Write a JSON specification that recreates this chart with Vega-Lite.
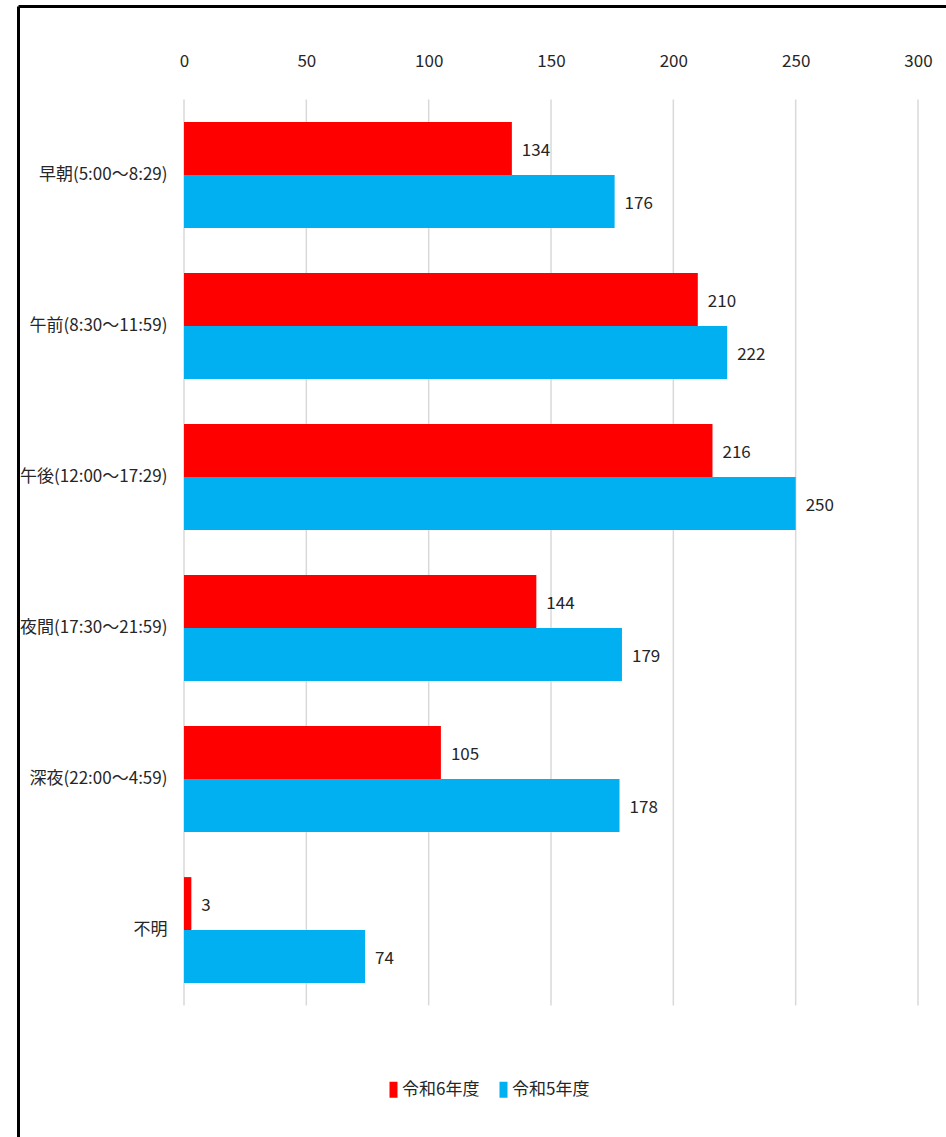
{
  "$schema": "https://vega.github.io/schema/vega-lite/v6.json",
  "width": 928,
  "height": 1131,
  "autosize": {"type": "none"},
  "padding": {"left": 18, "top": 6, "right": 0, "bottom": 0},
  "background": "white",
  "config": {
    "view": {"stroke": null},
    "font": "Noto Sans CJK JP, sans-serif",
    "text": {"font": "Noto Sans CJK JP, sans-serif"}
  },
  "datasets": {
    "bars": [
      {"time": "早朝(5:00～8:29)", "year": "令和6年度", "count": 134},
      {"time": "早朝(5:00～8:29)", "year": "令和5年度", "count": 176},
      {"time": "午前(8:30～11:59)", "year": "令和6年度", "count": 210},
      {"time": "午前(8:30～11:59)", "year": "令和5年度", "count": 222},
      {"time": "午後(12:00～17:29)", "year": "令和6年度", "count": 216},
      {"time": "午後(12:00～17:29)", "year": "令和5年度", "count": 250},
      {"time": "夜間(17:30～21:59)", "year": "令和6年度", "count": 144},
      {"time": "夜間(17:30～21:59)", "year": "令和5年度", "count": 179},
      {"time": "深夜(22:00～4:59)", "year": "令和6年度", "count": 105},
      {"time": "深夜(22:00～4:59)", "year": "令和5年度", "count": 178},
      {"time": "不明", "year": "令和6年度", "count": 3},
      {"time": "不明", "year": "令和5年度", "count": 74}
    ],
    "grid": [{"v": 0}, {"v": 50}, {"v": 100}, {"v": 150}, {"v": 200}, {"v": 250}, {"v": 300}]
  },
  "layer": [
    {
      "data": {"name": "grid"},
      "mark": {"type": "rule", "color": "#D9D9D9", "strokeWidth": 1.5},
      "encoding": {
        "x": {"field": "v", "type": "quantitative"},
        "y": {"datum": "早朝(5:00～8:29)", "type": "nominal", "bandPosition": -0.212},
        "y2": {"datum": "不明", "bandPosition": 1.212}
      }
    },
    {
      "data": {"name": "bars"},
      "mark": {"type": "bar"},
      "encoding": {
        "x": {"field": "count", "type": "quantitative"},
        "x2": {"datum": 0},
        "y": {"field": "time", "type": "nominal"},
        "yOffset": {"field": "year", "type": "nominal", "scale": {"domain": ["令和6年度", "令和5年度"], "paddingInner": 0, "paddingOuter": 0}},
        "color": {
          "field": "year", "type": "nominal",
          "scale": {"domain": ["令和6年度", "令和5年度"], "range": ["#FF0000", "#00B0F0"]},
          "legend": {
            "title": null,
            "orient": "none",
            "direction": "horizontal",
            "legendX": 367,
            "legendY": 1075,
            "symbolType": "M-0.5,-1h1v2h-1z",
            "symbolSize": 256,
            "symbolStrokeWidth": 0,
            "symbolOpacity": 1,
            "labelFontSize": 17,
            "labelColor": "#262626",
            "labelOffset": 0,
            "columnPadding": 15,
            "padding": 0
          }
        }
      }
    },
    {
      "data": {"name": "bars"},
      "mark": {"type": "text", "align": "left", "baseline": "middle", "dx": 10, "dy": 2, "fontSize": 17, "color": "#262626"},
      "encoding": {
        "x": {"field": "count", "type": "quantitative"},
        "y": {"field": "time", "type": "nominal"},
        "yOffset": {"field": "year", "type": "nominal"},
        "text": {"field": "count", "type": "quantitative"}
      }
    }
  ],
  "resolve": {"scale": {"yOffset": "shared"}},
  "encoding": {
    "x": {
      "type": "quantitative",
      "scale": {"domain": [-67.85, 311.44], "nice": false, "zero": false},
      "axis": {
        "orient": "top",
        "title": null,
        "values": [0, 50, 100, 150, 200, 250, 300],
        "domain": true,
        "domainColor": "#000000",
        "domainWidth": 3,
        "ticks": false,
        "grid": false,
        "labelPadding": -64,
        "labelFontSize": 17,
        "labelColor": "#262626",
        "labelFlush": false
      }
    },
    "y": {
      "type": "nominal",
      "scale": {
        "domain": ["早朝(5:00～8:29)", "午前(8:30～11:59)", "午後(12:00～17:29)", "夜間(17:30～21:59)", "深夜(22:00～4:59)", "不明"],
        "paddingInner": 0.298,
        "paddingOuter": 0.894,
        "align": 0.43
      },
      "axis": {
        "orient": "left",
        "title": null,
        "domain": true,
        "domainColor": "#000000",
        "domainWidth": 3,
        "ticks": false,
        "grid": false,
        "labelPadding": -149,
        "labelAlign": "right",
        "labelFontSize": 17,
        "labelColor": "#262626",
        "labelLimit": 300
      }
    }
  }
}
